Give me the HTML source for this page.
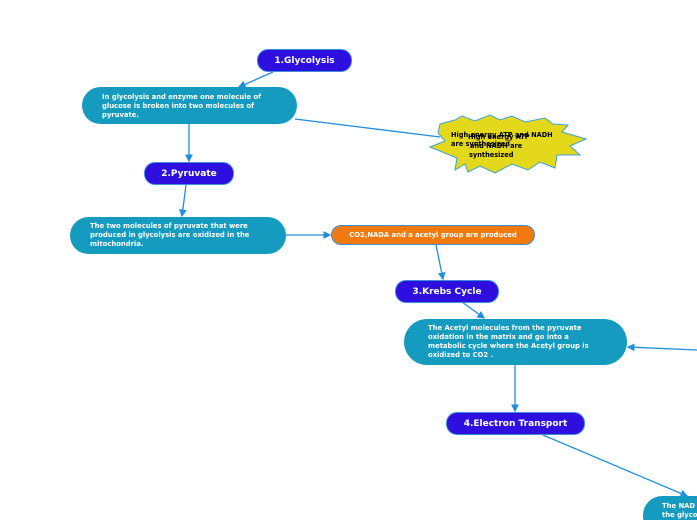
<!DOCTYPE html>
<html><head><style>
html,body{margin:0;width:697px;height:520px;background:#fff;position:relative;overflow:hidden;font-family:"DejaVu Sans",sans-serif;}
.n{position:absolute;box-sizing:border-box;color:#fff;font-weight:bold;}
.p{background:#2f0fe0;border:1px solid #3a8fd8;border-radius:11px;font-size:9px;display:flex;align-items:center;justify-content:center;}
.t{background:#149bbf;border-radius:19px;font-size:6.8px;line-height:9px;white-space:nowrap;}
svg{position:absolute;left:0;top:0;}
svg text{font-family:"DejaVu Sans",sans-serif;font-weight:bold;font-size:6.6px;}
</style></head><body>
<svg width="697" height="520">
<defs><marker id="a" markerWidth="6" markerHeight="6" refX="5" refY="3" orient="auto"><path d="M0,0 L6,3 L0,6z" fill="#1f8fdc"/></marker></defs>
<g stroke="#1f8fdc" stroke-width="1.3" fill="none" marker-end="url(#a)">
<line x1="273" y1="72" x2="239" y2="87"/>
<line x1="189" y1="124" x2="189" y2="161"/>
<line x1="186" y1="185" x2="182" y2="216"/>
<line x1="286" y1="235" x2="330" y2="235"/>
<line x1="436" y1="245" x2="443" y2="279"/>
<line x1="462" y1="302" x2="484" y2="318"/>
<line x1="515" y1="365" x2="515" y2="411"/>
<line x1="543" y1="435" x2="687" y2="496"/>
<line x1="697" y1="350" x2="628" y2="347"/>
</g>
<line x1="295" y1="119" x2="440" y2="137" stroke="#1f8fdc" stroke-width="1.3"/>
<polygon points="440,124 455,120 462,116 475,121 490,115 500,120 512,116 525,122 545,118 553,124 568,125 562,132 586,139 570,146 580,155 557,155 555,168 540,162 528,170 512,164 495,173 480,166 468,172 465,164 455,170 457,158 430,147 445,141 438,133" fill="#e4d81a" stroke="#3aa0d8" stroke-width="1"/>
<text x="451" y="137" fill="#000">High energy ATP and NADH</text>
<text x="451" y="146" fill="#000">are synthesized</text>
<text x="468" y="139" fill="#000">High energy ATP</text>
<text x="470" y="148" fill="#000">and NADH are</text>
<text x="469" y="157" fill="#000">synthesized</text>
</svg>
<div class="n p" style="left:257px;top:49px;width:95px;height:23px;">1.Glycolysis</div>
<div class="n t" style="left:82px;top:87px;width:215px;height:37px;padding:6px 0 0 20px;">In glycolysis and enzyme one molecule of<br>glucose is broken into two molecules of<br>pyruvate.</div>
<div class="n p" style="left:144px;top:162px;width:90px;height:23px;">2.Pyruvate</div>
<div class="n t" style="left:70px;top:217px;width:216px;height:37px;padding:5px 0 0 20px;">The two molecules of pyruvate that were<br>produced in glycolysis are oxidized in the<br>mitochondria.</div>
<div class="n" style="left:331px;top:225px;width:204px;height:20px;background:#f07a10;border:1px solid #3a8fd8;border-radius:10px;font-size:6.8px;display:flex;align-items:center;justify-content:center;">CO2,NADA and a acetyl group are produced</div>
<div class="n p" style="left:395px;top:280px;width:104px;height:23px;">3.Krebs Cycle</div>
<div class="n t" style="left:404px;top:319px;width:223px;height:46px;border-radius:23px;padding:5px 0 0 24px;">The Acetyl molecules from the pyruvate<br>oxidation in the matrix and go into a<br>metabolic cycle where the Acetyl group is<br>oxidized to CO2 .</div>
<div class="n p" style="left:446px;top:412px;width:139px;height:23px;">4.Electron Transport</div>
<div class="n t" style="left:643px;top:496px;width:80px;height:40px;padding:6px 0 0 19px;">The NAD<br>the glyco</div>
</body></html>
